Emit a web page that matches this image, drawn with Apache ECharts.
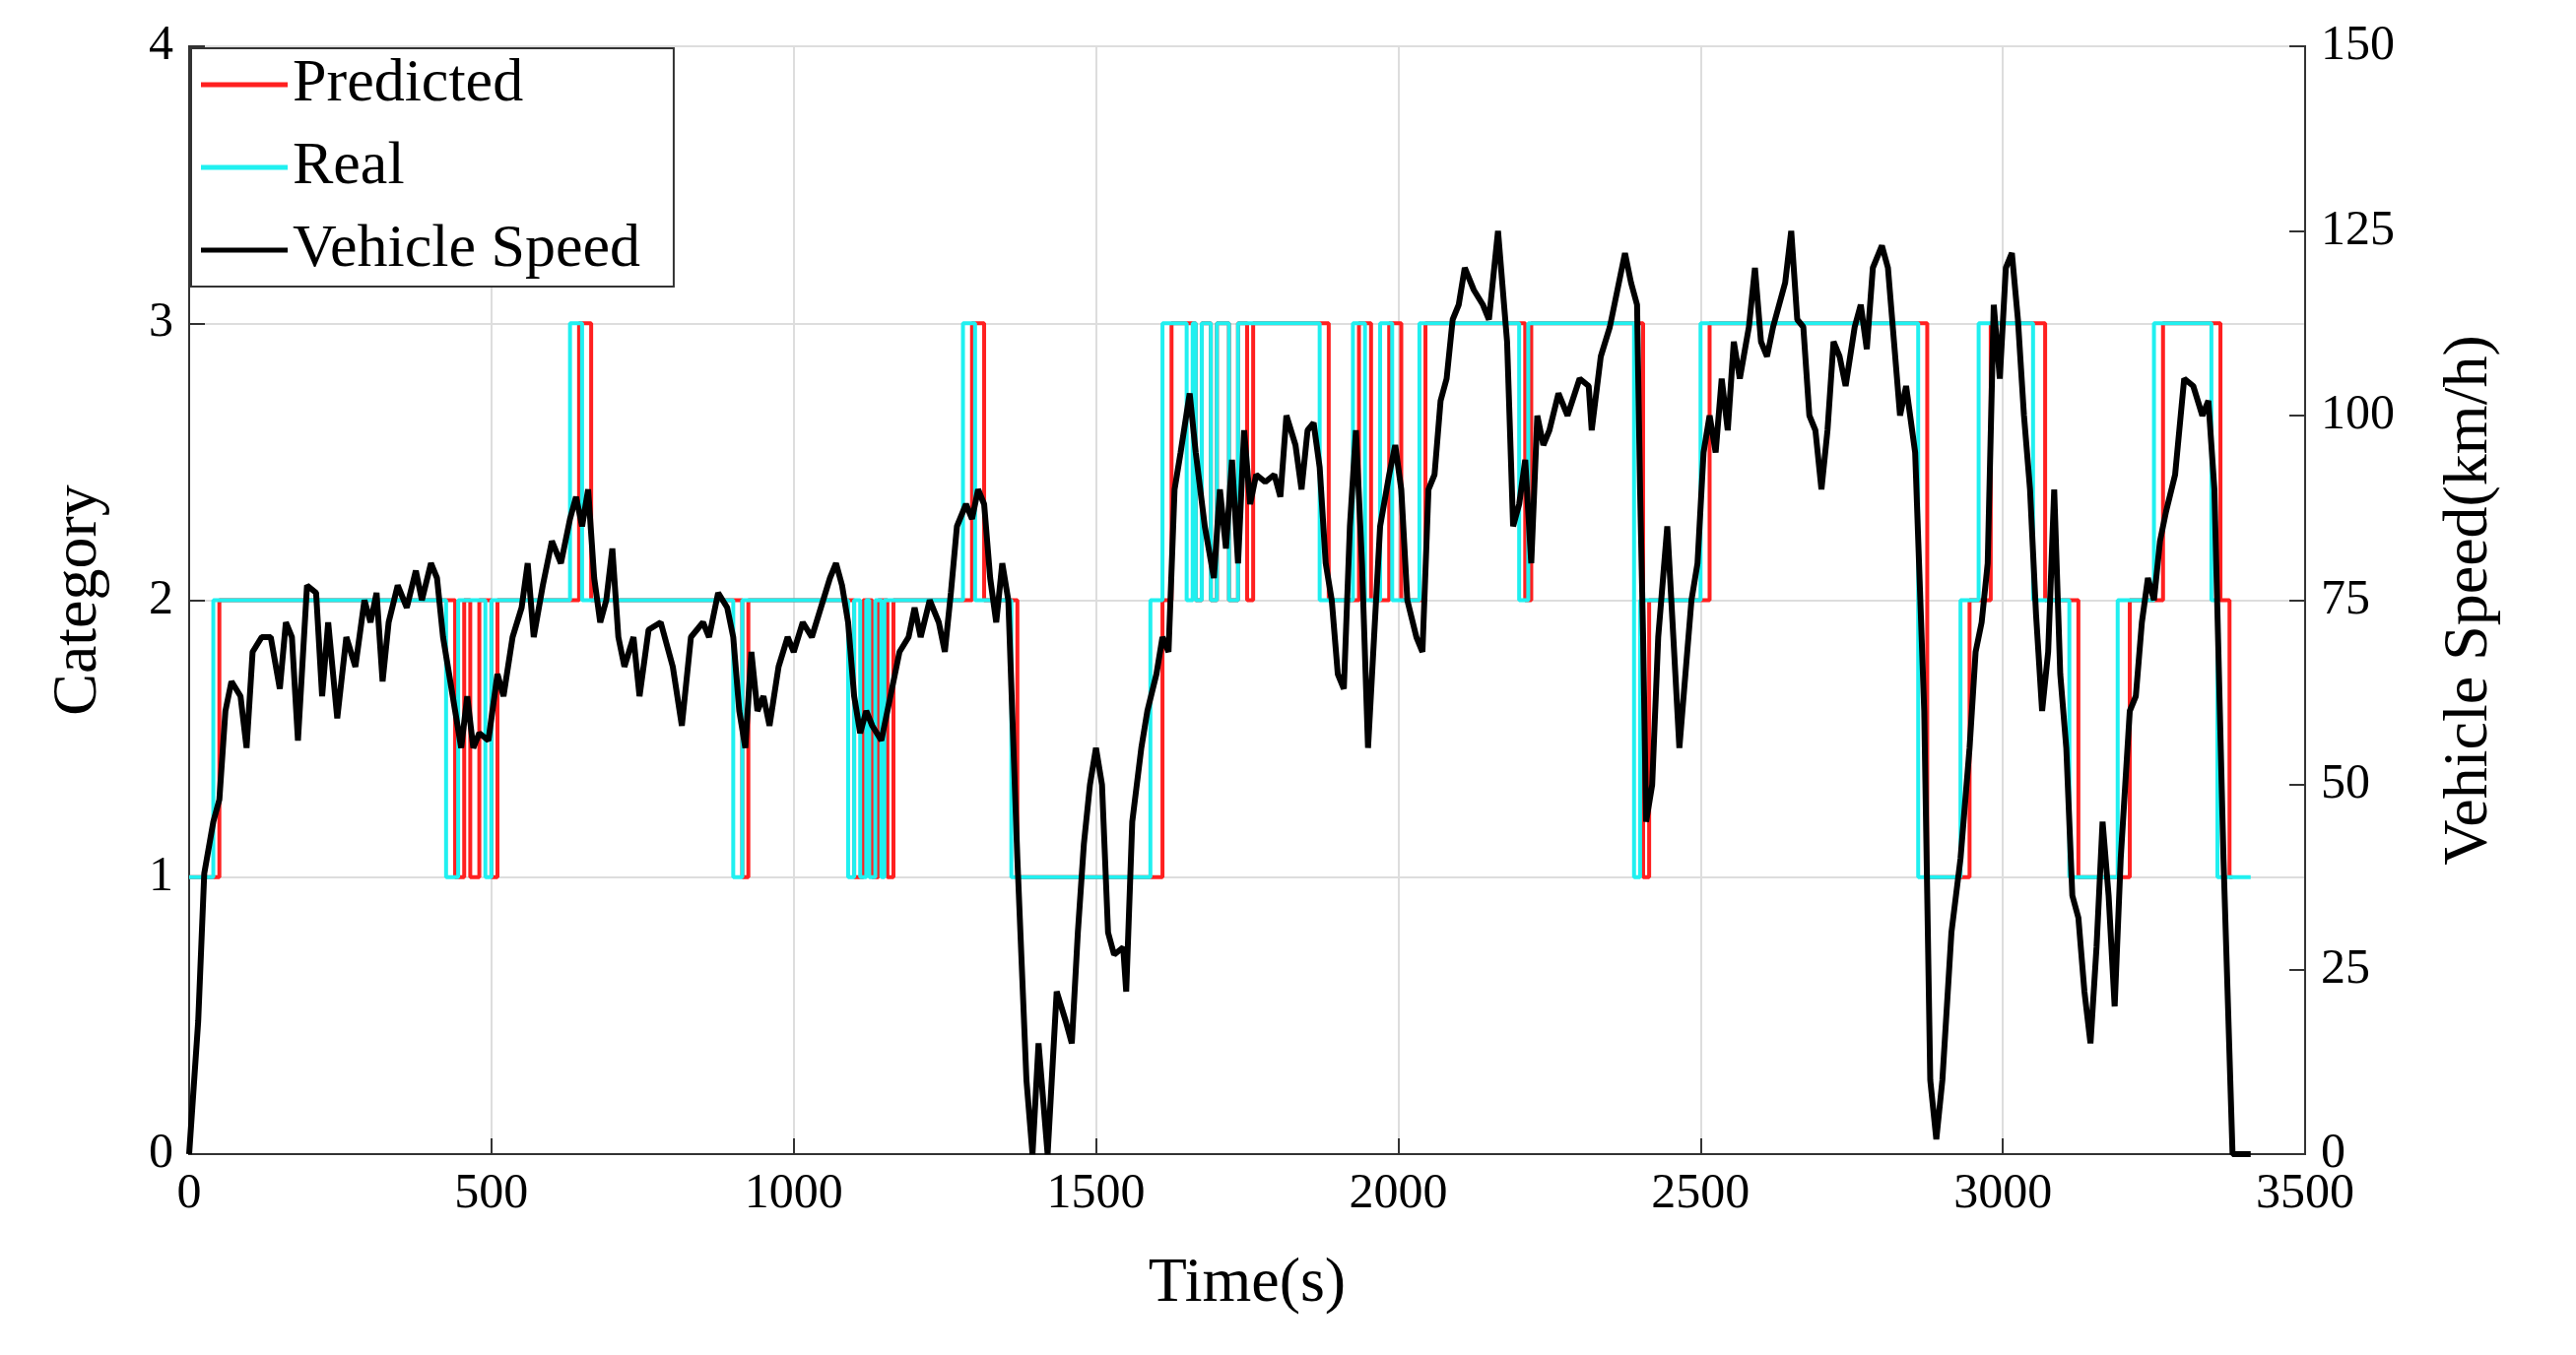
<!DOCTYPE html>
<html>
<head>
<meta charset="utf-8">
<script src="https://cdn.jsdelivr.net/npm/echarts@6/dist/echarts.min.js"></script>
<style>html,body{margin:0;padding:0;background:#fff}#chart{width:2615px;height:1376px}</style>
</head>
<body>
<div id="chart"></div>
<script>
// category steps: [time, class] holds until next point
const realSteps = [[0,1],[40,2],[425,1],[445,2],[490,1],[500,2],[630,3],[650,2],[900,1],[915,2],[1090,1],[1100,2],[1110,1],[1120,2],[1125,1],[1135,2],[1145,1],[1150,2],[1280,3],[1300,2],[1360,1],[1590,2],[1610,3],[1650,2],[1660,3],[1665,2],[1675,3],[1690,2],[1700,3],[1720,2],[1735,3],[1870,2],[1925,3],[1945,2],[1970,3],[1990,2],[2035,3],[2200,2],[2215,3],[2390,1],[2400,2],[2500,3],[2860,1],[2930,2],[2960,3],[3050,2],[3110,1],[3190,2],[3250,3],[3345,2],[3355,1],[3410,1]];
const predSteps = [[0,1],[50,2],[440,1],[455,2],[465,1],[480,2],[500,1],[510,2],[645,3],[665,2],[915,1],[925,2],[1100,1],[1115,2],[1130,1],[1140,2],[1155,1],[1165,2],[1295,3],[1315,2],[1370,1],[1610,2],[1625,3],[1665,2],[1675,3],[1690,2],[1700,3],[1720,2],[1735,3],[1750,2],[1760,3],[1885,2],[1935,3],[1955,2],[1985,3],[2005,2],[2045,3],[2210,2],[2220,3],[2405,1],[2415,2],[2515,3],[2875,1],[2945,2],[2980,3],[3070,2],[3125,1],[3210,2],[3265,3],[3360,2],[3375,1],[3380,1]];
const speedTime = [0,15,25,40,50,60,70,85,95,105,120,135,150,160,170,180,195,210,220,230,245,260,275,290,300,310,320,330,345,360,375,385,400,410,420,430,440,450,460,470,480,495,510,520,535,550,560,570,585,600,615,630,640,650,660,670,680,690,700,710,720,735,745,760,780,800,815,830,850,860,875,890,900,910,920,930,940,950,960,975,990,1000,1015,1030,1045,1060,1070,1080,1090,1100,1110,1120,1130,1145,1160,1175,1190,1200,1210,1225,1240,1250,1260,1270,1285,1295,1305,1315,1325,1335,1345,1355,1370,1385,1395,1405,1420,1435,1450,1460,1470,1480,1490,1500,1510,1520,1530,1545,1550,1560,1575,1585,1600,1610,1620,1630,1640,1655,1665,1680,1695,1705,1715,1725,1735,1745,1755,1765,1780,1795,1805,1815,1830,1840,1850,1860,1870,1880,1890,1900,1910,1920,1930,1940,1950,1960,1970,1985,1995,2005,2015,2030,2040,2050,2060,2070,2080,2090,2100,2110,2125,2140,2150,2165,2180,2190,2200,2210,2220,2230,2240,2250,2265,2280,2300,2315,2320,2335,2350,2365,2375,2385,2395,2400,2405,2410,2420,2430,2445,2455,2465,2475,2485,2495,2505,2515,2525,2535,2545,2555,2565,2580,2590,2600,2610,2620,2630,2640,2650,2660,2670,2680,2690,2700,2710,2720,2730,2740,2755,2765,2775,2785,2800,2810,2820,2830,2840,2855,2870,2880,2890,2900,2915,2930,2945,2955,2965,2975,2985,2995,3005,3015,3025,3035,3045,3055,3065,3075,3085,3095,3105,3115,3125,3135,3145,3155,3165,3175,3185,3195,3210,3220,3230,3240,3250,3260,3270,3285,3300,3315,3330,3340,3350,3365,3380,3410];
const speedVal = [0,18,38,45,48,60,64,62,55,68,70,70,63,72,70,56,77,76,62,72,59,70,66,75,72,76,64,72,77,74,79,75,80,78,70,65,60,55,62,55,57,56,65,62,70,74,80,70,77,83,80,86,89,85,90,78,72,75,82,70,66,70,62,71,72,66,58,70,72,70,76,74,70,60,55,68,60,62,58,66,70,68,72,70,74,78,80,77,72,62,57,60,58,56,62,68,70,74,70,75,72,68,76,85,88,86,90,88,78,72,80,75,40,10,0,15,0,22,18,15,30,42,50,55,50,30,27,28,22,45,55,60,65,70,68,90,95,103,95,85,78,90,82,94,80,98,88,92,91,92,89,100,96,90,98,99,93,80,75,65,63,85,98,80,55,70,85,92,96,90,75,70,68,90,92,102,105,113,115,120,117,115,113,125,110,85,88,94,80,100,96,98,103,100,105,104,98,108,112,118,122,118,115,90,70,45,50,70,85,70,55,65,75,80,95,100,95,105,98,110,105,112,120,110,108,112,115,118,125,113,112,100,98,90,98,110,108,104,112,115,109,120,123,120,110,100,104,95,60,10,2,10,30,40,55,68,72,80,115,105,120,122,113,100,90,73,60,68,90,65,55,35,32,22,15,28,45,35,20,40,60,62,72,78,75,83,87,92,105,104,100,102,90,40,0,0];

const xTicks = [0, 3500, 500];
const catTicks = [0, 4, 1];
const speedTicks = [0, 150, 25];

const font = 'Liberation Serif';
const chart = echarts.init(document.getElementById('chart'));
const tick = { fontSize: 50, color: '#000', margin: 16, formatter: v => String(v) };
const nameStyle = { fontFamily: font, fontSize: 64, color: '#000' };
chart.setOption({
    animation: false,
    textStyle: { fontFamily: font, color: '#000' },
    grid: { left: 192, right: 275, top: 47, bottom: 204, show: true, borderColor: '#333', borderWidth: 2 },
    legend: {
        left: 194, top: 49, orient: 'vertical', itemGap: 22,
        backgroundColor: '#fff', borderColor: '#333', borderWidth: 2,
        padding: [6, 34, 6, 10], itemWidth: 88, itemHeight: 5,
        textStyle: { fontFamily: font, fontSize: 62, color: '#000' },
        data: ['Predicted', 'Real', 'Vehicle Speed'],
        icon: 'rect'
    },
    xAxis: {
        type: 'value', min: xTicks[0], max: xTicks[1], interval: xTicks[2],
        name: 'Time(s)', nameLocation: 'middle', nameGap: 100,
        nameTextStyle: nameStyle,
        axisLabel: tick,
        axisLine: { lineStyle: { color: '#333', width: 2 } },
        axisTick: { inside: true, length: 16, lineStyle: { color: '#333', width: 2 } },
        splitLine: { show: true, lineStyle: { color: '#ddd', width: 2 } }
    },
    yAxis: [{
        type: 'value', min: catTicks[0], max: catTicks[1], interval: catTicks[2],
        name: 'Category', nameLocation: 'middle', nameGap: 80,
        nameTextStyle: nameStyle,
        axisLabel: tick,
        axisLine: { show: true, lineStyle: { color: '#333', width: 2 } },
        axisTick: { show: true, inside: true, length: 16, lineStyle: { color: '#333', width: 2 } },
        splitLine: { show: true, lineStyle: { color: '#ddd', width: 2 } }
    }, {
        type: 'value', min: speedTicks[0], max: speedTicks[1], interval: speedTicks[2],
        name: 'Vehicle Speed(km/h)', nameLocation: 'middle', nameGap: 135, nameRotate: 90,
        nameTextStyle: nameStyle,
        axisLabel: tick,
        axisLine: { show: true, lineStyle: { color: '#333', width: 2 } },
        axisTick: { show: true, inside: true, length: 16, lineStyle: { color: '#333', width: 2 } },
        splitLine: { show: false }
    }],
    series: [{
        name: 'Predicted', type: 'line', step: 'end', yAxisIndex: 0, showSymbol: false,
        lineStyle: { color: '#ff2020', width: 4 }, itemStyle: { color: '#ff2020' },
        data: predSteps, z: 2
    }, {
        name: 'Real', type: 'line', step: 'end', yAxisIndex: 0, showSymbol: false,
        lineStyle: { color: '#20f0f0', width: 4 }, itemStyle: { color: '#20f0f0' },
        data: realSteps, z: 3
    }, {
        name: 'Vehicle Speed', type: 'line', yAxisIndex: 1, showSymbol: false,
        lineStyle: { color: '#000', width: 6 }, itemStyle: { color: '#000' },
        data: speedTime.map((t, i) => [t, speedVal[i]]), z: 4
    }]
});
</script>
</body>
</html>
